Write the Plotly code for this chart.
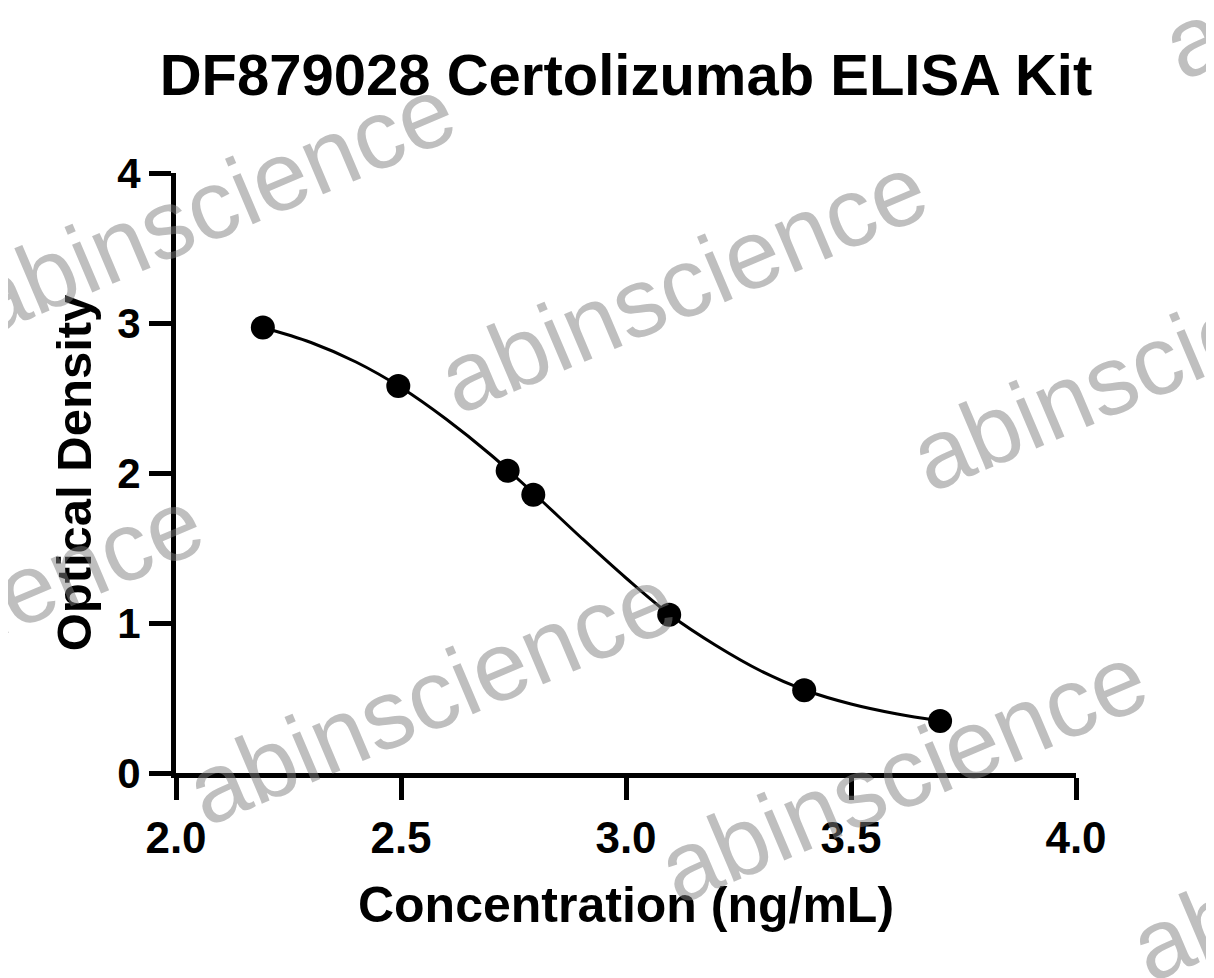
import plotly.graph_objects as go

# ---- data ----
conc_log = [2.193, 2.494, 2.737, 2.794, 3.096, 3.396, 3.698]
od_values = [2.97, 2.58, 2.015, 1.855, 1.055, 0.551, 0.347]

# fitted curve
curve_x = [2.193, 2.3, 2.4, 2.5, 2.6, 2.7, 2.8, 2.9, 3.0, 3.1, 3.2, 3.3, 3.4, 3.5, 3.6, 3.698]
curve_y = [2.97, 2.87, 2.74, 2.57, 2.36, 2.12, 1.85, 1.57, 1.30, 1.05, 0.85, 0.68, 0.55, 0.46, 0.395, 0.347]

x_ticks = [2.0, 2.5, 3.0, 3.5, 4.0]
x_tick_labels = ["2.0", "2.5", "3.0", "3.5", "4.0"]
y_ticks = [0, 1, 2, 3, 4]
y_tick_labels = ["0", "1", "2", "3", "4"]

title_text = "DF879028 Certolizumab ELISA Kit"
x_title = "Concentration (ng/mL)"
y_title = "Optical Density"
watermark = "abinscience"

# ---- figure (page has an 8px body margin) ----
OFF = 8
W, H = 1214 - OFF, 978 - OFF
L = 176 - OFF
T = 173 - OFF
R = W - (1076 - OFF)
B = H - (773 - OFF)
FONT = "Liberation Sans, Arial, sans-serif"

fig = go.Figure()
fig.add_trace(go.Scatter(
    x=curve_x, y=curve_y, mode="lines",
    line=dict(color="black", width=3, shape="spline", smoothing=1.0),
    hoverinfo="skip", showlegend=False,
))
fig.add_trace(go.Scatter(
    x=conc_log, y=od_values, mode="markers",
    marker=dict(color="black", size=24),
    showlegend=False,
))

axis_common = dict(
    showgrid=False, zeroline=False, showline=True, linecolor="black",
    linewidth=5, ticks="outside", tickwidth=5, tickcolor="black", ticklen=22,
)
fig.update_xaxes(range=[2.0, 4.0], tickvals=x_ticks, ticktext=x_tick_labels,
                 tickfont=dict(family=FONT, size=44, color="black", weight="bold"),
                 title=dict(text=x_title, font=dict(family=FONT, size=50, color="black", weight="bold"),
                            standoff=28),
                 **axis_common)
fig.update_yaxes(range=[0, 4], tickvals=y_ticks, ticktext=y_tick_labels,
                 tickfont=dict(family=FONT, size=42, color="black", weight="bold"),
                 title=dict(text=y_title, font=dict(family=FONT, size=49, color="black", weight="bold"),
                            standoff=12),
                 **axis_common)

# watermark placement (screen-pixel centres on a lattice)
base = (683, 283)
va = (472, 78)
vb = (220, 490)
offsets = [(0, 0), (-1, 0), (1, 0), (-1, 1), (0, 1), (-2, 1), (1, 1), (1, -1), (2, -1)]
pw = W - L - R
ph = H - T - B
annotations = []
for i, j in offsets:
    px = base[0] + i * va[0] + j * vb[0] - OFF
    py = base[1] + i * va[1] + j * vb[1] - OFF
    annotations.append(dict(
        text=watermark, x=(px - L) / pw, y=(H - B - py) / ph,
        xref="paper", yref="paper", xanchor="center", yanchor="middle",
        showarrow=False, textangle=-23,
        font=dict(family=FONT, size=98, color="rgba(128,128,128,0.5)"),
    ))

fig.update_layout(
    width=W, height=H,
    margin=dict(l=L, r=R, t=T, b=B),
    paper_bgcolor="white", plot_bgcolor="white",
    title=dict(text=title_text, x=(626 - OFF) / W, xanchor="center",
               y=1 - (75 - OFF) / H, yanchor="middle",
               font=dict(family=FONT, size=58, color="black", weight="bold")),
    annotations=annotations,
)

fig.write_html("out.html")
